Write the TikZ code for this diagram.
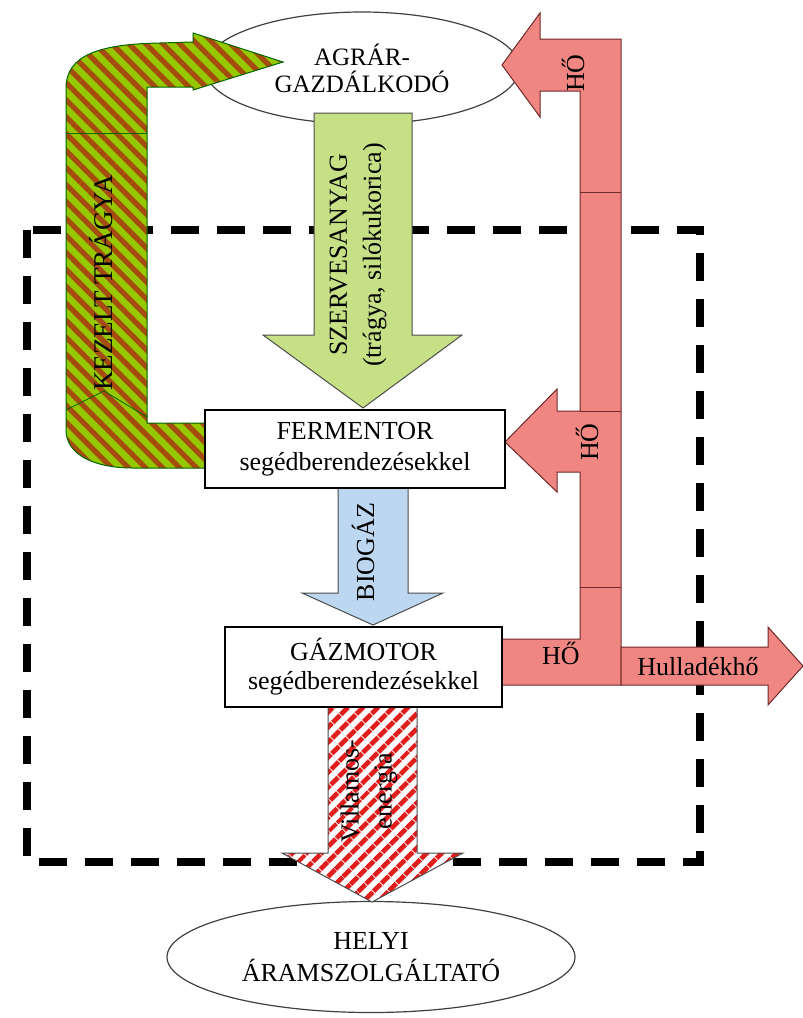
\documentclass[tikz,border=0pt]{standalone}
\usepackage{fontspec}
\setmainfont{Liberation Serif}
\usepackage{xcolor}
\usepackage{tikz}
\usetikzlibrary{shapes.geometric}
\usetikzlibrary{patterns.meta}
\definecolor{hoerot}{RGB}{240,134,130}
\definecolor{hoerand}{RGB}{110,40,40}
\definecolor{szervgruen}{RGB}{198,224,134}
\definecolor{gasblau}{RGB}{190,215,240}
\definecolor{trgruen}{RGB}{150,200,0}
\definecolor{trbraun}{RGB}{165,75,15}
\definecolor{stromrot}{RGB}{225,30,30}
\tikzset{
  Kasten/.style={draw, line width=0.8pt, fill=white, inner sep=0pt, align=center}, % Anlagen
  Oval/.style={ellipse, draw=black!75, line width=0.6pt, fill=white, inner sep=0pt, align=center},
  Rahmen/.style={line width=4pt, dash pattern=on 14pt off 9pt}, % Systemgrenze
  Pfeilrand/.style={draw=black!70, line width=0.5pt}, % für Blockpfeile
  HPfeil/.style={Pfeilrand, draw=hoerand, fill=hoerot}, % für Wärmepfeile
  SPfeil/.style={Pfeilrand, preaction={fill=white}, pattern={Lines[angle=45,distance=5.4pt,line width=2.6pt]}, pattern color=stromrot},
  TPfeil/.style={Pfeilrand, draw=black!60!green, preaction={fill=trgruen}, pattern={Lines[angle=-45,distance=6pt,line width=2.6pt]}, pattern color=trbraun},
  Beschr/.style={inner sep=0pt, align=center}
}

\begin{document}
\begin{tikzpicture}[x=0.5pt, y=-0.5pt,
font=\fontsize{13}{15.5}\selectfont
]
\useasboundingbox (0,0) rectangle (803,1018);

%Systemgrenze
\draw[Rahmen] (27,230) rectangle (700,862);

%Ovale
\node[Oval, minimum width=157.5pt, minimum height=56pt, font=\fontsize{12.5}{13.5}\selectfont] (agrar) at (362,68) {AGRÁR-\\GAZDÁLKODÓ};
\node[Oval, minimum width=204pt, minimum height=55.5pt, font=\fontsize{13}{16}\selectfont] (helyi) at (371,957) {HELYI\\ÁRAMSZOLGÁLTATÓ};

%Blockpfeile
\draw[Pfeilrand, fill=szervgruen] (314,113) -- (412,113) -- (412,335) -- (462,335) -- (363,408) -- (263,335) -- (314,335) -- cycle;
\draw[Pfeilrand, fill=gasblau] (338,488) -- (408,488) -- (408,593) -- (443,593) -- (373,625) -- (302,593) -- (338,593) -- cycle;
\draw[SPfeil] (328,707) -- (417,707) -- (417,853) -- (463,853) -- (372,902) -- (282,853) -- (328,853) -- cycle;
\draw[TPfeil] (205,423) -- (147,423) -- (147,87) -- (193,87) -- (193,90) -- (283,62) -- (193,33) -- (193,42) -- (160,43)
  .. controls (100,44) and (66,55) .. (66,88) -- (66,430) .. controls (66,455) and (95,468) .. (133,468) -- (205,468) -- cycle;
\draw[black!60!green, line width=0.4pt] (66,133) -- (147,133);
\draw[black!60!green, line width=0.4pt] (66,410) -- (104,391) -- (147,417);

%Waerme
\draw[HPfeil] (502,639) -- (580,639) -- (580,472) -- (557,472) -- (557,492) -- (505,442) -- (557,389) -- (557,411)
  -- (580,411) -- (580,91) -- (540,91) -- (540,117) -- (502,65) -- (540,13) -- (540,39) -- (621,39) -- (621,685) -- (502,685) -- cycle;
\draw[HPfeil] (621,647) -- (768,647) -- (768,627) -- (803,666) -- (768,705) -- (768,685) -- (621,685) -- cycle;
\foreach \y in {192,411,587}
  \draw[hoerand, line width=0.5pt] (580,\y) -- (621,\y);

%Anlagen
\node[Kasten, minimum width=150pt, minimum height=39pt] (ferm) at (355,449) {FERMENTOR\\segédberendezésekkel};
\node[Kasten, minimum width=138.5pt, minimum height=40pt, font=\fontsize{13}{14.5}\selectfont] (motor) at (363.5,667) {GÁZMOTOR\\segédberendezésekkel};

%Beschriftungen
\node[Beschr, rotate=90, font=\fontsize{13}{17}\selectfont] (szerv) at (358,255) {SZERVESANYAG\\(trágya, silókukorica)};
\node[Beschr, rotate=90] (biogaz) at (363,552) {BIOGÁZ};
\node[Beschr, rotate=90, font=\fontsize{13.5}{15.5}\selectfont] (kezelt) at (101,283) {KEZELT TRÁGYA};
\node[Beschr, rotate=90, font=\fontsize{13}{16.5}\selectfont] (villamos) at (369,791) {Villamos-\\energia};
\node[Beschr, rotate=90] (hoA) at (573,73) {HŐ};
\node[Beschr, rotate=90] (hoB) at (587,442) {HŐ};
\node[Beschr] (hoC) at (561,653) {HŐ};
\node[Beschr] (hulla) at (698,667) {Hulladékhő};

\end{tikzpicture}
\end{document}
